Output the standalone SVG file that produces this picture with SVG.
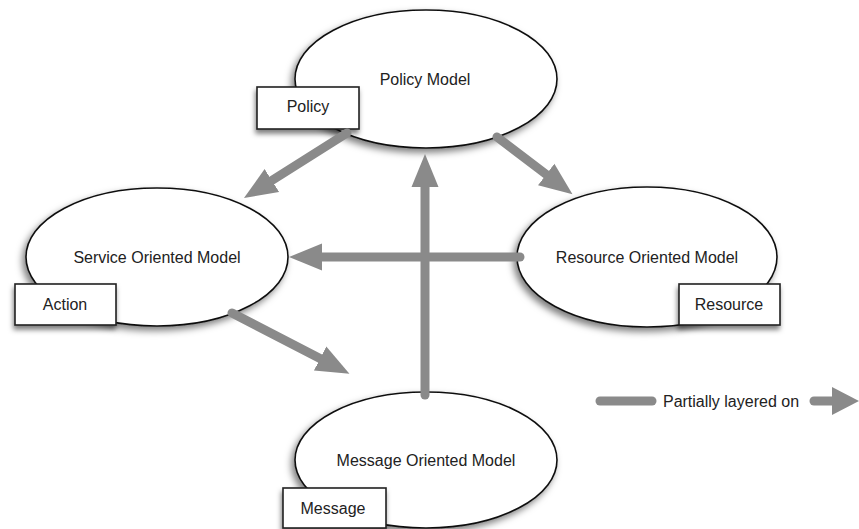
<svg xmlns="http://www.w3.org/2000/svg" width="859" height="529" viewBox="0 0 859 529">
<style>
  .ell { fill: #ffffff; stroke: #111111; stroke-width: 1.6; filter: url(#sh); }
  .box { fill: #ffffff; stroke: #222222; stroke-width: 1.6; filter: url(#sh2); }
  .txt { font-family: "Liberation Sans", Arial, Helvetica, sans-serif; font-size: 16px; fill: #222222; text-anchor: middle; }
  .conn { stroke: #8a8a8a; stroke-width: 9; stroke-linecap: round; fill: none; }
  .head { fill: #8a8a8a; }
</style>
<defs>
  <filter id="sh" x="-20%" y="-20%" width="140%" height="150%">
    <feDropShadow dx="-3" dy="4" stdDeviation="3.5" flood-color="#000000" flood-opacity="0.5"/>
  </filter>
  <filter id="sh2" x="-20%" y="-30%" width="140%" height="170%">
    <feDropShadow dx="-1" dy="4" stdDeviation="2.5" flood-color="#000000" flood-opacity="0.5"/>
  </filter>
  <marker id="ah" markerUnits="userSpaceOnUse" markerWidth="36" markerHeight="30" viewBox="0 -15 36 30" refX="1" refY="0" orient="auto">
    <path class="head" d="M0,-13.5 L33,0 L0,13.5 Z"/>
  </marker>
</defs>
<rect width="859" height="529" fill="#ffffff"/>

<g id="policy-model">
  <ellipse class="ell" cx="426" cy="79" rx="131" ry="69"/>
  <text class="txt" x="425" y="85">Policy Model</text>
  <rect class="box" x="257" y="87" width="102" height="42"/>
  <text class="txt" x="308" y="112">Policy</text>
</g>

<g id="service-oriented-model">
  <ellipse class="ell" cx="157" cy="257" rx="131" ry="69"/>
  <text class="txt" x="157" y="263">Service Oriented Model</text>
  <rect class="box" x="15" y="284" width="101" height="41"/>
  <text class="txt" x="65" y="310">Action</text>
</g>

<g id="resource-oriented-model">
  <ellipse class="ell" cx="647" cy="257" rx="130" ry="70"/>
  <text class="txt" x="647" y="263">Resource Oriented Model</text>
  <rect class="box" x="679" y="284" width="101" height="41"/>
  <text class="txt" x="729" y="310">Resource</text>
</g>

<g id="message-oriented-model">
  <ellipse class="ell" cx="426" cy="460" rx="131" ry="68"/>
  <text class="txt" x="426" y="466">Message Oriented Model</text>
  <rect class="box" x="283" y="488" width="103" height="40"/>
  <text class="txt" x="333" y="514">Message</text>
</g>

<g id="connectors">
  <path class="conn" d="M347,133 L271,181" marker-end="url(#ah)"/>
  <path class="conn" d="M497,137 L547,175" marker-end="url(#ah)"/>
  <path class="conn" d="M520,257 L321,257" marker-end="url(#ah)"/>
  <path class="conn" d="M425,395 L425,186" marker-end="url(#ah)"/>
  <path class="conn" d="M232,313 L321,359" marker-end="url(#ah)"/>
</g>

<g id="legend">
  <path class="conn" d="M600,401 L652,401"/>
  <text class="txt" x="731" y="407">Partially layered on</text>
  <path class="conn" d="M814,401 L832,401" stroke-linecap="butt"/>
  <path class="head" d="M832,387 L859,401 L832,415 Z"/>
</g>
</svg>
